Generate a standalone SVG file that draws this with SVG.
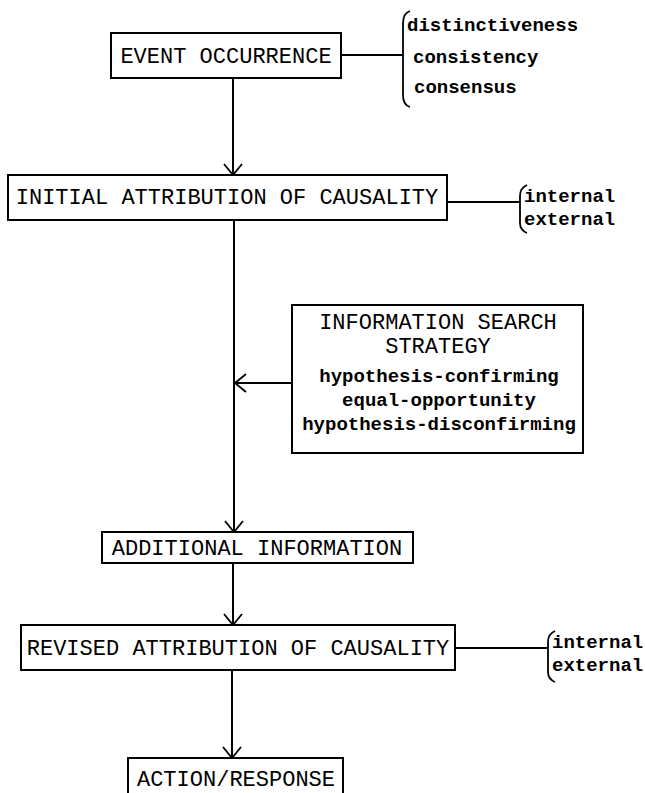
<svg xmlns="http://www.w3.org/2000/svg" width="645" height="793" viewBox="0 0 645 793">
<defs>
<style>
.box{fill:#fff;stroke:#000;stroke-width:2}
.ln{fill:none;stroke:#000;stroke-width:2}
.br{fill:none;stroke:#000;stroke-width:1.8}
.cap{font-family:"Liberation Mono","Courier New",monospace;font-size:22px;fill:#000;text-anchor:middle}
.low{font-family:"Liberation Mono","Courier New",monospace;font-size:19px;font-weight:bold;fill:#000}
.lowc{font-family:"Liberation Mono","Courier New",monospace;font-size:19px;font-weight:bold;fill:#000;text-anchor:middle}
</style>
<marker id="ah" viewBox="-12 -12 24 24" markerWidth="24" markerHeight="24" refX="0" refY="0" orient="auto" markerUnits="userSpaceOnUse">
<path d="M-11,-9 L0,0 L-11,9" fill="none" stroke="#000" stroke-width="1.8"/>
</marker>
</defs>
<rect width="645" height="793" fill="#fff"/>
<g id="connectors">
<line class="ln" x1="233" y1="78" x2="233" y2="175" marker-end="url(#ah)"/>
<line class="ln" x1="341" y1="55" x2="403" y2="55"/>
<line class="ln" x1="447" y1="202" x2="520" y2="202"/>
<line class="ln" x1="234" y1="220" x2="234" y2="532" marker-end="url(#ah)"/>
<line class="ln" x1="292" y1="383" x2="235" y2="383" marker-end="url(#ah)"/>
<line class="ln" x1="233" y1="563" x2="233" y2="625" marker-end="url(#ah)"/>
<line class="ln" x1="455" y1="648" x2="548" y2="648"/>
<line class="ln" x1="232" y1="670" x2="232" y2="758" marker-end="url(#ah)"/>
</g>
<g id="event">
<rect class="box" x="111" y="33" width="230" height="45"/>
<text class="cap" x="226" y="63">EVENT OCCURRENCE</text>
</g>
<g id="event-factors">
<path class="br" d="M410,11 Q403,13 403,24 L403,95 Q403,105 410,107"/>
<text class="low" x="407" y="31">distinctiveness</text>
<text class="low" x="413" y="63">consistency</text>
<text class="low" x="414" y="93">consensus</text>
</g>
<g id="initial">
<rect class="box" x="8" y="175" width="439" height="45"/>
<text class="cap" x="227" y="204">INITIAL ATTRIBUTION OF CAUSALITY</text>
</g>
<g id="initial-factors">
<path class="br" d="M527,185 Q520,188 520,196 L520,223 Q520,230 527,233"/>
<text class="low" x="524" y="202">internal</text>
<text class="low" x="524" y="225">external</text>
</g>
<g id="strategy">
<rect class="box" x="292" y="305" width="291" height="148"/>
<text class="cap" x="438" y="329">INFORMATION SEARCH</text>
<text class="cap" x="438" y="353">STRATEGY</text>
<text class="lowc" x="439" y="382">hypothesis-confirming</text>
<text class="lowc" x="439" y="406">equal-opportunity</text>
<text class="lowc" x="439" y="430">hypothesis-disconfirming</text>
</g>
<g id="additional">
<rect class="box" x="102" y="532" width="311" height="31"/>
<text class="cap" x="257" y="555">ADDITIONAL INFORMATION</text>
</g>
<g id="revised">
<rect class="box" x="21" y="625" width="434" height="45"/>
<text class="cap" x="238" y="655">REVISED ATTRIBUTION OF CAUSALITY</text>
</g>
<g id="revised-factors">
<path class="br" d="M555,631 Q548,634 548,642 L548,672 Q548,679 555,682"/>
<text class="low" x="552" y="648">internal</text>
<text class="low" x="552" y="671">external</text>
</g>
<g id="action">
<rect class="box" x="128" y="758" width="215" height="45"/>
<text class="cap" x="236" y="786">ACTION/RESPONSE</text>
</g>
</svg>
